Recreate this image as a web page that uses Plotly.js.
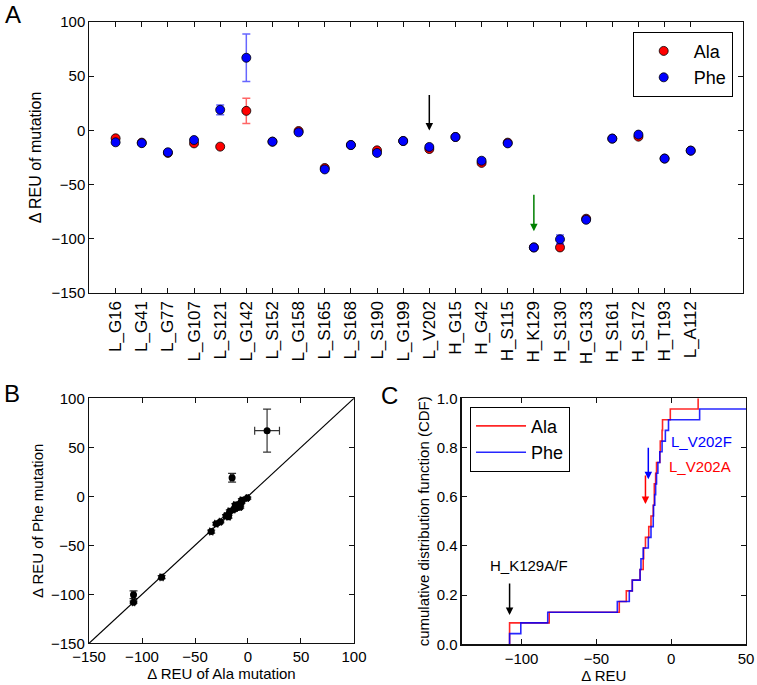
<!DOCTYPE html>
<html>
<head>
<meta charset="utf-8">
<script src="https://cdn.plot.ly/plotly-3.0.1.min.js"></script>
<style>html,body{margin:0;padding:0;background:#fff;}#chart{width:757px;height:685px;}</style>
</head>
<body>
<div id="chart"></div>
<script>
// ---- data ----
const categories = ['L_G16','L_G41','L_G77','L_G107','L_S121','L_G142','L_S152','L_G158','L_S165','L_S168','L_S190','L_G199','L_V202','H_G15','H_G42','H_S115','H_K129','H_S130','H_G133','H_S161','H_S172','H_T193','L_A112'];
const alaValues = [-7.3,-11.3,-20.8,-12,-15,18,-10.4,-0.6,-34.7,-13.5,-18.4,-9.8,-17.2,-6.1,-30,-11.3,-108,-108,-81.5,-7.6,-5.8,-26,-18.7];
const pheValues = [-11,-11.8,-20.2,-8.9,19,67,-10.4,-1.8,-36,-13.5,-20.8,-9.8,-15.3,-6.1,-28,-12,-108,-100.5,-82.5,-7.6,-3.9,-26,-18.7];
const alaErrors = [1,1,1.5,1.5,1.5,11.7,1,1,1.5,1,1.5,1,1.5,1,1.5,1,1,1.5,1.5,1,1.5,1,1];
const pheErrors = [1,1,1.5,1.5,4.5,22,1,1,1.5,1,1.5,1,1.5,1,1.5,1,1,4,1.5,1,1.5,1,1];
const seriesNames = ['Ala','Phe'];
const markedMutation = 'L_V202';
const markedLowest = 'H_K129';

const idx = categories.map((c,i)=>i);
const FONT = 'Liberation Sans, Arial, sans-serif';
const RED = '#ff0000', BLUE = '#0000ff';

function cdf(vals){
  const s = vals.slice().sort((a,b)=>a-b);
  const n = s.length;
  const x = [s[0]], y = [0];
  s.forEach((v,i)=>{ x.push(v); y.push((i+1)/n); });
  return {x, y};
}
const cdfAla = cdf(alaValues), cdfPhe = cdf(pheValues);

const traces = [
  {type:'scatter', mode:'markers', x:idx, y:alaValues, name:seriesNames[0], xaxis:'x', yaxis:'y', legend:'legend',
   error_y:{type:'data', array:alaErrors, visible:true, color:'rgba(255,0,0,0.6)', thickness:1.5, width:4},
   marker:{color:RED, size:9, line:{color:'#000', width:0.8}}, cliponaxis:false},
  {type:'scatter', mode:'markers', x:idx, y:pheValues, name:seriesNames[1], xaxis:'x', yaxis:'y', legend:'legend',
   error_y:{type:'data', array:pheErrors, visible:true, color:'rgba(0,0,255,0.6)', thickness:1.5, width:4},
   marker:{color:BLUE, size:9, line:{color:'#000', width:0.8}}, cliponaxis:false},
  {type:'scatter', mode:'markers', x:alaValues, y:pheValues, xaxis:'x2', yaxis:'y2', showlegend:false,
   error_x:{type:'data', array:alaErrors, visible:true, color:'rgba(0,0,0,0.8)', thickness:1.2, width:4},
   error_y:{type:'data', array:pheErrors, visible:true, color:'rgba(0,0,0,0.8)', thickness:1.2, width:4},
   marker:{color:'#000', size:7}},
  {type:'scatter', mode:'lines', x:cdfAla.x, y:cdfAla.y, name:seriesNames[0], xaxis:'x3', yaxis:'y3', legend:'legend2',
   line:{color:RED, width:1.6, shape:'hv'}, opacity:0.85},
  {type:'scatter', mode:'lines', x:cdfPhe.x, y:cdfPhe.y, name:seriesNames[1], xaxis:'x3', yaxis:'y3', legend:'legend2',
   line:{color:BLUE, width:1.6, shape:'hv'}, opacity:0.85}
];

const axBase = {showline:true, linecolor:'#111', linewidth:1.2, mirror:'ticks', ticks:'inside', ticklen:5, tickcolor:'#111',
  showgrid:false, zeroline:false, tickfont:{family:FONT, size:15, color:'#000'}};
const titleFont = {family:FONT, size:15, color:'#000'};
const rangeB = [-150, 100];

const vIdx = categories.indexOf(markedMutation);
const kIdx = categories.indexOf(markedLowest);

const layout = {
  width:757, height:685, margin:{l:0,r:0,t:0,b:0}, paper_bgcolor:'#fff', plot_bgcolor:'#fff',
  font:{family:FONT, color:'#000'},
  xaxis:Object.assign({}, axBase, {domain:[0.1182,0.9815], anchor:'y', range:[-1,24], tickvals:idx, ticktext:categories, tickangle:-90,
    tickfont:{family:FONT, size:17, color:'#000'}}),
  yaxis:Object.assign({}, axBase, {domain:[0.5723,0.9679], anchor:'x', range:[-150,100], dtick:50,
    title:{text:'Δ REU of mutation', font:{family:FONT, size:16, color:'#000'}, standoff:5}}),
  xaxis2:Object.assign({}, axBase, {domain:[0.1176,0.4676], anchor:'y2', range:rangeB, dtick:50,
    title:{text:'Δ REU of Ala mutation', font:titleFont, standoff:0}}),
  yaxis2:Object.assign({}, axBase, {domain:[0.0609,0.4185], anchor:'x2', range:rangeB, dtick:50,
    title:{text:'Δ REU of Phe mutation', font:titleFont, standoff:3}}),
  xaxis3:Object.assign({}, axBase, {domain:[0.6099,0.9855], anchor:'y3', range:[-140,50], dtick:50, tick0:0,
    title:{text:'Δ REU', font:titleFont, standoff:2}}),
  yaxis3:Object.assign({}, axBase, {domain:[0.0594,0.4185], anchor:'x3', range:[0,1], dtick:0.2, tickformat:'.1f',
    title:{text:'cumulative distribution function (CDF)', font:titleFont, standoff:3}}),
  legend:{x:0.8358, y:0.9537, xanchor:'left', yanchor:'top', bordercolor:'#000', borderwidth:1, bgcolor:'#fff',
    itemwidth:50, font:{family:FONT, size:18}},
  legend2:{x:0.6209, y:0.4063, xanchor:'left', yanchor:'top', bordercolor:'#000', borderwidth:1, bgcolor:'#fff',
    itemwidth:50, font:{family:FONT, size:18}},
  shapes:[{type:'line', xref:'x2', yref:'y2', x0:rangeB[0], y0:rangeB[0], x1:rangeB[1], y1:rangeB[1], line:{color:'#000', width:1.2}}],
  annotations:[
    {text:'A', xref:'paper', yref:'paper', x:3/757, y:1-14.5/685, xanchor:'left', yanchor:'middle', showarrow:false, font:{family:FONT, size:24}},
    {text:'B', xref:'paper', yref:'paper', x:2/757, y:1-393.5/685, xanchor:'left', yanchor:'middle', showarrow:false, font:{family:FONT, size:24}},
    {text:'C', xref:'paper', yref:'paper', x:379/757, y:1-395/685, xanchor:'left', yanchor:'middle', showarrow:false, font:{family:FONT, size:24}},
    {text:'', xref:'x', yref:'y', x:vIdx, y:0, ax:0, ay:-37, showarrow:true, arrowhead:2, arrowsize:1, arrowwidth:1.5, arrowcolor:'#000'},
    {text:'', xref:'x', yref:'y', x:kIdx, y:-93, ax:0, ay:-38, showarrow:true, arrowhead:2, arrowsize:1, arrowwidth:1.5, arrowcolor:'#008000'},
    {text:'', xref:'x3', yref:'y3', x:alaValues[kIdx], y:0.119, ax:0, ay:-33, showarrow:true, arrowhead:2, arrowsize:1, arrowwidth:1.5, arrowcolor:'#000'},
    {text:'H_K129A/F', xref:'x3', yref:'y3', x:-95, y:0.322, showarrow:false, font:{family:FONT, size:15, color:'#000'}},
    {text:'', xref:'x3', yref:'y3', x:pheValues[vIdx], y:0.671, ax:0, ay:-33, showarrow:true, arrowhead:2, arrowsize:1, arrowwidth:1.5, arrowcolor:BLUE},
    {text:'', xref:'x3', yref:'y3', x:alaValues[vIdx], y:0.57, ax:0, ay:-30, showarrow:true, arrowhead:2, arrowsize:1, arrowwidth:1.5, arrowcolor:RED},
    {text:'L_V202F', xref:'x3', yref:'y3', x:-1.5, y:0.824, xanchor:'left', showarrow:false, font:{family:FONT, size:15, color:BLUE}},
    {text:'L_V202A', xref:'x3', yref:'y3', x:-2.5, y:0.723, xanchor:'left', showarrow:false, font:{family:FONT, size:15, color:RED}}
  ]
};

Plotly.newPlot('chart', traces, layout, {displayModeBar:false, staticPlot:true});
</script>
</body>
</html>
